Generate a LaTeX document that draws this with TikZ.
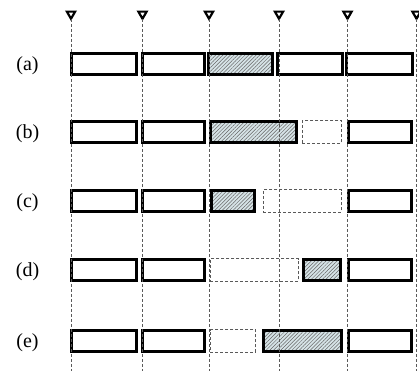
\documentclass[tikz,border=0pt]{standalone}
\usepackage{fontspec}
\setmainfont{Liberation Serif}
\usetikzlibrary{shapes.geometric, patterns.meta}

\definecolor{hatchbg}{RGB}{214,227,231}
\definecolor{guidegray}{RGB}{90,90,90}

\tikzset{
    blk/.style={draw, line width=2.7pt, minimum height=21.3pt, inner sep=0pt, anchor=west},
    hatched/.style={blk, preaction={fill=hatchbg},
        pattern={Lines[angle=45, distance=2.6pt, line width=0.5pt]}, pattern color=gray!80!black},
    emptyslot/.style={draw=gray!70!black, dashed, dash pattern=on 3pt off 2pt, line width=0.8pt,
        minimum height=22.5pt, inner sep=0pt, anchor=west},
    marker/.style={draw, line width=2.2pt, fill=white, regular polygon, regular polygon sides=3,
        shape border rotate=180, minimum size=9.5pt, inner sep=0pt, outer sep=0pt},
    guide/.style={draw=guidegray, line width=0.7pt, dash pattern=on 3pt off 2pt},
    lbl/.style={font=\fontsize{20}{24}\selectfont, inner sep=0pt}
}

\begin{document}
\begin{tikzpicture}[x=1pt, y=-1pt]
        \useasboundingbox (0, 0) rectangle (419, 370);

        % markers on top
        \node[marker] at (71, 14) (t1) {};
        \node[marker] at (142.5, 14) (t2) {};
        \node[marker] at (209, 14) (t3) {};
        \node[marker] at (279, 14) (t4) {};
        \node[marker] at (347.5, 14) (t5) {};
        \node[marker] at (416.5, 14) (t6) {};
        \coordinate (b1) at (71, 372);
        \coordinate (b2) at (142.5, 372);
        \coordinate (b3) at (209, 372);
        \coordinate (b4) at (279, 372);
        \coordinate (b5) at (347.5, 372);
        \coordinate (b6) at (416.5, 372);

        % row labels
        \node[lbl] at (27.5, 66) (la) {(a)};
        \node[lbl] at (27.5, 134) (lb) {(b)};
        \node[lbl] at (27.5, 203) (lc) {(c)};
        \node[lbl] at (27.5, 272) (ld) {(d)};
        \node[lbl] at (27.5, 343) (le) {(e)};

        % (a)
        \node[blk, minimum width=65.3pt] at (70, 64) (a1) {};
        \node[blk, minimum width=62.3pt] at (141, 64) (a2) {};
        \node[hatched, minimum width=64.3pt] at (208, 64) (a3) {};
        \node[blk, minimum width=65.3pt] at (276, 64) (a4) {};
        \node[blk, minimum width=66.3pt] at (345, 64) (a5) {};

        % (b)
        \node[blk, minimum width=65.3pt] at (70, 132) (b1n) {};
        \node[blk, minimum width=62.3pt] at (141, 132) (b2n) {};
        \node[hatched, minimum width=86.3pt] at (209, 132) (b3n) {};
        \node[emptyslot, minimum width=39.2pt] at (302, 132) (b4n) {};
        \node[blk, minimum width=63.3pt] at (347, 132) (b5n) {};

        % (c)
        \node[blk, minimum width=65.3pt] at (70, 201) (c1) {};
        \node[blk, minimum width=62.3pt] at (141, 201) (c2) {};
        \node[hatched, minimum width=43.3pt] at (210, 201) (c3) {};
        \node[emptyslot, minimum width=78.2pt] at (263, 201) (c4) {};
        \node[blk, minimum width=63.3pt] at (347, 201) (c5) {};

        % (d)
        \node[blk, minimum width=65.3pt] at (70, 270) (d1) {};
        \node[blk, minimum width=62.3pt] at (141, 270) (d2) {};
        \node[emptyslot, minimum width=88.2pt] at (210, 270) (d3) {};
        \node[hatched, minimum width=37.3pt] at (302, 270) (d4) {};
        \node[blk, minimum width=63.3pt] at (347, 270) (d5) {};

        % (e)
        \node[blk, minimum width=65.3pt] at (70, 341) (e1) {};
        \node[blk, minimum width=62.3pt] at (141, 341) (e2) {};
        \node[emptyslot, minimum width=45.2pt] at (210, 341) (e3) {};
        \node[hatched, minimum width=78.3pt] at (262, 341) (e4) {};
        \node[blk, minimum width=63.3pt] at (347, 341) (e5) {};

        % guide lines
        \draw[guide] (t1.corner 1) -- (b1);
        \draw[guide] (t2.corner 1) -- (b2);
        \draw[guide] (t3.corner 1) -- (b3);
        \draw[guide] (t4.corner 1) -- (b4);
        \draw[guide] (t5.corner 1) -- (b5);
        \draw[guide] (t6.corner 1) -- (b6);
    \end{tikzpicture}
\end{document}
